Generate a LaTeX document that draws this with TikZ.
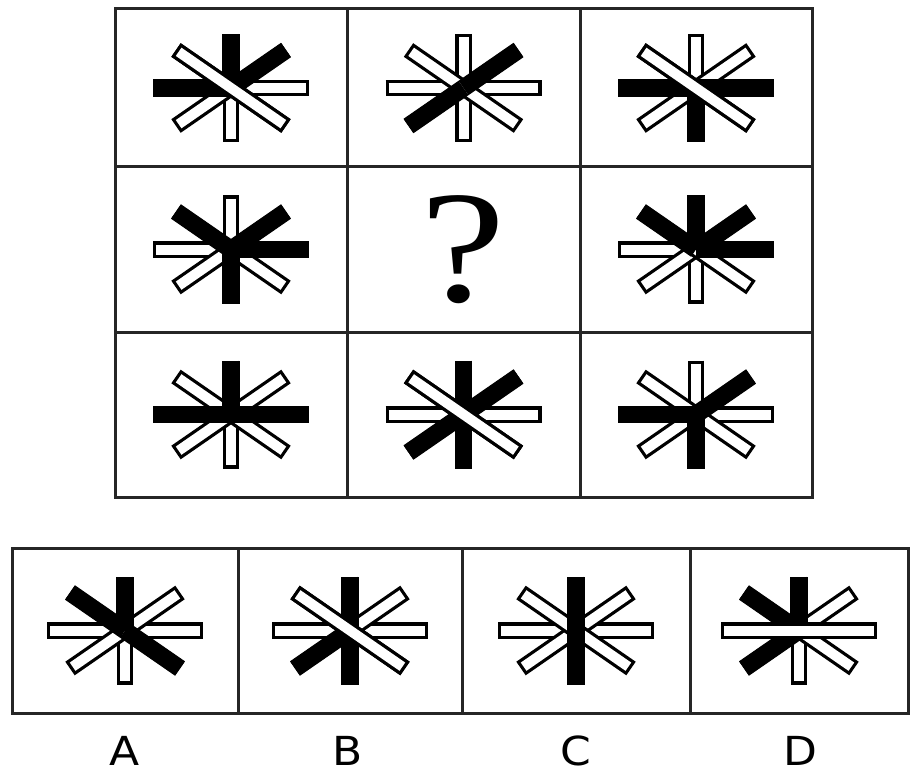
\documentclass[tikz,border=0pt]{standalone}
\usepackage{fontspec}
\newfontfamily\labelfont{DejaVu Sans}
\newfontfamily\qfont{Liberation Serif}
\tikzset{
  frame/.style={line width=3pt, draw=black!85},
  outerbar/.style={line width=16.5pt, draw=black},
  innerbar/.style={line width=10pt, draw=white, shorten <=3.2pt, shorten >=3.2pt},
  blackarm/.style={line width=17.5pt, draw=black},
  optlabel/.style={font=\labelfont\fontsize{40}{40}\selectfont, xscale=1.1, inner sep=0pt},
}
\newcommand\whitebar[2]{%
  \draw[outerbar] (-#1,-#2) -- (#1,#2);
  \draw[innerbar] (-#1,-#2) -- (#1,#2);}
\newcommand\asterfig[4][]{%
  \begin{scope}[shift={(#2,#3)}]
    \whitebar{0}{54}
    \whitebar{78}{0}
    \whitebar{55}{-38}
    \whitebar{55}{38}
    \foreach \bx/\by in {#4} {\draw[blackarm] (0,0) -- (\bx,\by);}
    #1
  \end{scope}}
\begin{document}
\begin{tikzpicture}[x=1pt,y=-1pt]
\useasboundingbox[fill=white] (0,0) rectangle (910,778);
% main grid
\draw[frame] (115,9) rectangle (812,497);
\draw[frame] (347,9) -- (347,497);
\draw[frame] (580,9) -- (580,497);
\draw[frame] (115,167) -- (812,167);
\draw[frame] (115,332) -- (812,332);
% row 1
\asterfig[\whitebar{55}{38}]{231}{88}{0/-54, 55/-38, -78/0}
\asterfig{463.5}{88}{55/-38, -55/38}
\asterfig[\whitebar{55}{38}]{696}{88}{-78/0, 78/0, 0/54}
% row 2
\asterfig{231}{249.5}{-55/-38, 55/-38, 78/0, 0/54}
\node[font=\qfont\fontsize{160}{160}\selectfont, xscale=1.2, inner sep=0pt] (qm) at (463.5,250) {?};
\asterfig{696}{249.5}{0/-54, -55/-38, 55/-38, 78/0}
% row 3
\asterfig{231}{414.5}{0/-54, -78/0, 78/0}
\asterfig[\whitebar{55}{38}]{463.5}{414.5}{0/-54, 55/-38, -55/38, 0/54}
\asterfig{696}{414.5}{55/-38, -78/0, 0/54}
% options
\draw[frame] (12,548) rectangle (908,713);
\draw[frame] (238,548) -- (238,713);
\draw[frame] (462,548) -- (462,713);
\draw[frame] (690,548) -- (690,713);
\asterfig{125}{630.5}{-55/-38, 0/-54, 55/38}
\asterfig[\whitebar{55}{38}]{350}{630.5}{0/-54, 0/54, -55/38}
\asterfig{576}{630.5}{0/-54, 0/54}
\asterfig[\whitebar{78}{0}]{799}{630.5}{-55/-38, 0/-54, -55/38}
\node[optlabel] (la) at (125,751) {A};
\node[optlabel] (lb) at (348,751) {B};
\node[optlabel] (lc) at (576,751) {C};
\node[optlabel] (ld) at (800,751) {D};
\end{tikzpicture}
\end{document}
